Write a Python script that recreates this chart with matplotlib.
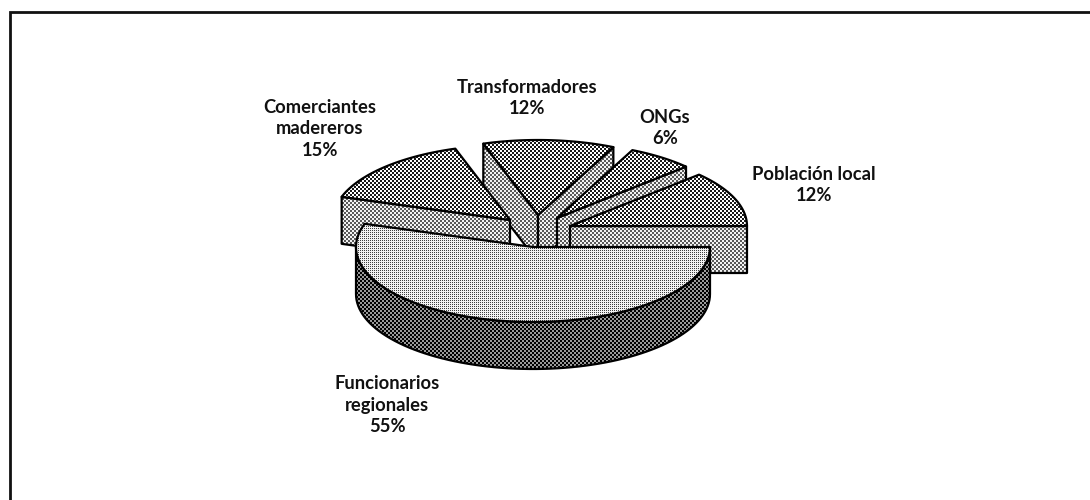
import numpy as np
import matplotlib
matplotlib.use('Agg')
import matplotlib.pyplot as plt
from matplotlib.patches import Polygon

# datos del grafico
nombres = ['Funcionarios\nregionales', 'Comerciantes\nmadereros', 'Transformadores', 'ONGs', 'Población local']
valores = [55, 15, 12, 6, 12]

# posicion de cada porcion (centro desplazado) y de su etiqueta, en pixeles
centros = [(533, 247), (510, 220), (538, 215), (557, 218), (570, 226)]
etiquetas_xy = [(387, 405), (320, 129), (527, 98), (665, 128), (814, 185)]
orden_dibujo = [2, 1, 3, 4, 0]

A, B = 177, 75   # semiejes de la elipse
ALTO = 47        # grosor del pastel

W, H = 1090, 500


# tramas de puntos (semitono) como en el original escaneado
def ajedrez(tam, claro, oscuro):
    yy, xx = np.indices((H, W))
    return np.where((xx // tam + yy // tam) % 2 == 0, oscuro, claro)


def puntos(periodo, claro, oscuro):
    yy, xx = np.indices((H, W))
    return np.where((xx % periodo == 0) & (yy % periodo == 0), oscuro, claro)


trama_oscura = ajedrez(2, 1.0, 0.1)
trama_lateral = ajedrez(2, 0.95, 0.35)
trama_clara = puntos(2, 0.95, 0.25)
trama_borde = ajedrez(2, 0.6, 0.0)


def arco(c, a1, a2, n=80):
    t = np.radians(np.linspace(a1, a2, n))
    return np.column_stack([c[0] + A * np.cos(t), c[1] - B * np.sin(t)])


fig = plt.figure(figsize=(W / 100, H / 100), dpi=100)
ax = fig.add_axes([0, 0, 1, 1])
ax.set_xlim(0, W)
ax.set_ylim(H, 0)
ax.axis('off')

zorden = [2]


def cara(pts, textura):
    z = zorden[0]
    zorden[0] += 1
    pol = Polygon(pts, closed=True, facecolor='none', edgecolor='black', lw=1.6,
                  joinstyle='round', zorder=z + 0.5)
    ax.add_patch(pol)
    img = ax.imshow(textura, cmap='gray', vmin=0, vmax=1, extent=(0, W, H, 0),
                    interpolation='nearest', aspect='auto', zorder=z)
    img.set_clip_path(pol)


# angulos: se empieza en 0 grados y se avanza en sentido horario
angulos = -360 * np.cumsum([0] + valores) / sum(valores)
abajo = np.array([0, ALTO])

for i in orden_dibujo:
    c = np.array(centros[i])
    a_ini, a_fin = angulos[i], angulos[i + 1]
    sup = arco(c, a_ini, a_fin)

    # caras radiales visibles
    if np.cos(np.radians(a_ini)) < 0:
        cara([c, sup[0], sup[0] + abajo, c + abajo], trama_lateral)
    if np.cos(np.radians(a_fin)) > 0:
        cara([c, sup[-1], sup[-1] + abajo, c + abajo], trama_lateral)

    # borde curvo delantero (solo la porcion grande llega al frente)
    if a_ini - a_fin > 180:
        r = arco(c, 0, -180)
        cara(np.vstack([r, (r + abajo)[::-1]]), trama_borde)

    # cara superior
    cara(np.vstack([[c], sup]), trama_clara if a_ini - a_fin > 180 else trama_oscura)

# etiquetas
for nombre, valor, (x, y) in zip(nombres, valores, etiquetas_xy):
    ax.text(x, y, f'{nombre}\n{valor}%', ha='center', va='center', fontsize=13.2,
            family='Lato', weight='bold', color='#111111', linespacing=1.32, zorder=50)

# marco superior e izquierdo
ax.plot([9.5, 9.5, W], [H, 11.5, 11.5], color='#111111', lw=2, zorder=60, solid_joinstyle='miter')

fig.savefig('out.png', dpi=100)
